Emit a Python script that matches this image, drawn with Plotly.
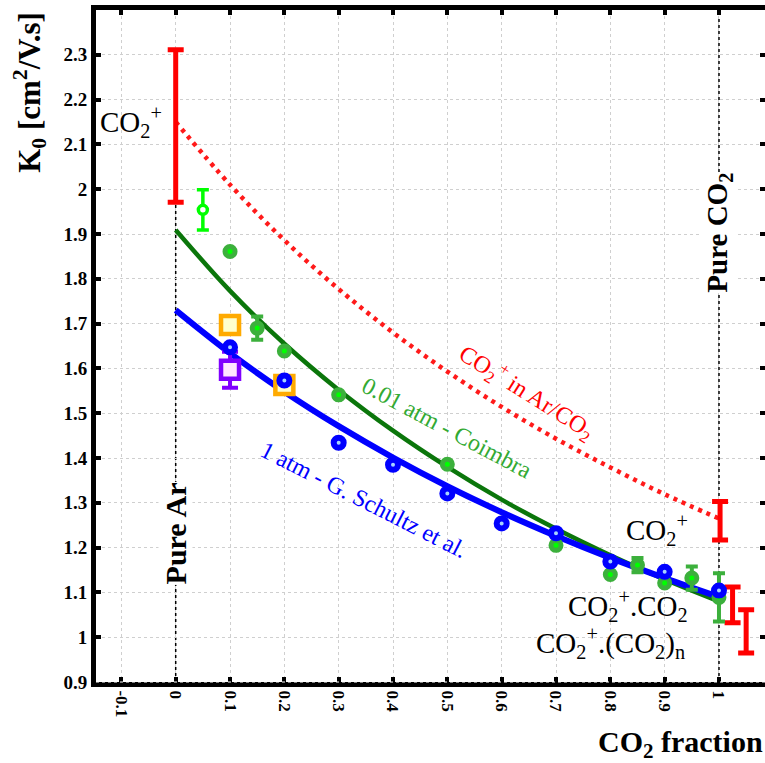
import plotly.graph_objects as go

# ---------------- data ----------------
frac_curve = [0.0, 0.1, 0.2, 0.3, 0.4, 0.5, 0.6, 0.7, 0.8, 0.9, 1.0]
k_red_curve = [2.15, 2.01, 1.886, 1.777, 1.68, 1.593, 1.514, 1.443, 1.379, 1.319, 1.265]
k_green_curve = [1.909, 1.773, 1.655, 1.552, 1.461, 1.38, 1.307, 1.242, 1.183, 1.129, 1.08]
k_blue_curve = [1.73, 1.634, 1.548, 1.471, 1.401, 1.337, 1.279, 1.226, 1.177, 1.132, 1.09]

# red error bars (calculated CO2+ ranges)
red_x = [0.0, 1.002, 1.025, 1.05]
red_y = [2.141, 1.26, 1.072, 1.013]
red_err = [0.17, 0.043, 0.04, 0.048]

# 0.01 atm - Coimbra measurements
green_x = [0.1, 0.15, 0.2, 0.3, 0.5, 0.7, 0.8, 0.85, 0.9, 0.95, 1.0]
green_y = [1.861, 1.69, 1.639, 1.541, 1.386, 1.205, 1.14, 1.161, 1.121, 1.132, 1.089]
green_err = [0, 0.026, 0, 0, 0, 0, 0, 0.016, 0, 0.026, 0.054]

# single bright green point
lime_x = [0.05]
lime_y = [1.954]
lime_err = [0.045]

# 1 atm - G. Schultz et al.
blue_x = [0.1, 0.2, 0.3, 0.4, 0.5, 0.6, 0.7, 0.8, 0.9, 1.0]
blue_y = [1.647, 1.573, 1.434, 1.385, 1.321, 1.254, 1.232, 1.169, 1.146, 1.104]

orange_x = [0.1, 0.2]
orange_y = [1.697, 1.563]

purple_x = [0.1]
purple_y = [1.597]
purple_err = [0.04]

x_ticks = [-0.1, 0, 0.1, 0.2, 0.3, 0.4, 0.5, 0.6, 0.7, 0.8, 0.9, 1.0]
x_tick_text = ["-0.1", "0", "0.1", "0.2", "0.3", "0.4", "0.5", "0.6", "0.7", "0.8", "0.9", "1"]
y_ticks = [0.9, 1.0, 1.1, 1.2, 1.3, 1.4, 1.5, 1.6, 1.7, 1.8, 1.9, 2.0, 2.1, 2.2, 2.3]
y_tick_text = ["0.9", "1", "1.1", "1.2", "1.3", "1.4", "1.5", "1.6", "1.7", "1.8", "1.9", "2", "2.1", "2.2", "2.3"]

SERIF = "Liberation Serif, Times New Roman, serif"
GREEN_MARK = "#3cb03c"
DARK_GREEN = "#0b760b"

fig = go.Figure()

# curves
fig.add_trace(go.Scatter(x=frac_curve, y=k_red_curve, mode="lines",
                         line=dict(color="#ff1a1a", width=4.5, dash="4px,5px", shape="spline"),
                         hoverinfo="skip"))
fig.add_trace(go.Scatter(x=frac_curve, y=k_green_curve, mode="lines",
                         line=dict(color=DARK_GREEN, width=4.5, shape="spline"), hoverinfo="skip"))
fig.add_trace(go.Scatter(x=frac_curve, y=k_blue_curve, mode="lines",
                         line=dict(color="#0000ff", width=6, shape="spline"), hoverinfo="skip"))

# red error bars (no marker)
fig.add_trace(go.Scatter(x=red_x, y=red_y, mode="markers",
                         marker=dict(size=1, color="rgba(0,0,0,0)"),
                         error_y=dict(type="data", array=red_err, color="#ff0000",
                                      thickness=5, width=8)))

# green points
fig.add_trace(go.Scatter(x=green_x, y=green_y, mode="markers",
                         marker=dict(symbol="circle", size=10, color="#00ff00",
                                     line=dict(color=GREEN_MARK, width=5)),
                         error_y=dict(type="data", array=green_err, color=GREEN_MARK,
                                      thickness=4, width=6)))

# lime point
fig.add_trace(go.Scatter(x=lime_x, y=lime_y, mode="markers",
                         marker=dict(symbol="circle", size=9, color="white",
                                     line=dict(color="#00ff00", width=3.5)),
                         error_y=dict(type="data", array=lime_err, color="#00ff00",
                                      thickness=3.5, width=6)))

# orange squares
fig.add_trace(go.Scatter(x=orange_x, y=orange_y, mode="markers",
                         marker=dict(symbol="square", size=18, color="#ffffcc",
                                     line=dict(color="#ffaa00", width=4.5))))

# purple square
fig.add_trace(go.Scatter(x=purple_x, y=purple_y, mode="markers",
                         marker=dict(symbol="square", size=18, color="#ffe6ff",
                                     line=dict(color="#8000ff", width=4.5)),
                         error_y=dict(type="data", array=purple_err, color="#8000ff",
                                      thickness=4, width=8)))

# blue points
fig.add_trace(go.Scatter(x=blue_x, y=blue_y, mode="markers",
                         marker=dict(symbol="circle", size=10, color="#a8d4ff",
                                     line=dict(color="#0000ff", width=6))))

# vertical dotted reference lines
fig.add_shape(type="line", x0=0, x1=0, y0=0.9, y1=2.3, xref="x", yref="y",
              line=dict(color="black", width=1.5, dash="dot"), layer="below")
fig.add_shape(type="line", x0=1, x1=1, y0=0.9, y1=2.385, xref="x", yref="y",
              line=dict(color="black", width=1.5, dash="dot"), layer="below")
# dotted white line over the bottom axis
fig.add_shape(type="line", x0=0, x1=1, y0=0, y1=0, xref="paper", yref="paper",
              line=dict(color="white", width=1, dash="dot"), layer="above")

ann = []
# text labels
ann.append(dict(x=-0.082, y=2.15, text="CO<sub>2</sub><sup>+</sup>", showarrow=False,
                font=dict(family=SERIF, size=29, color="black")))
ann.append(dict(x=0.885, y=1.24, text="CO<sub>2</sub><sup>+</sup>", showarrow=False,
                font=dict(family=SERIF, size=29, color="black")))
ann.append(dict(x=0.832, y=1.07, text="CO<sub>2</sub><sup>+</sup>.CO<sub>2</sub>", showarrow=False,
                font=dict(family=SERIF, size=29, color="black")))
ann.append(dict(x=0.80, y=0.988, text="CO<sub>2</sub><sup>+</sup>.(CO<sub>2</sub>)<sub>n</sub>",
                showarrow=False, font=dict(family=SERIF, size=29, color="black")))
ann.append(dict(x=0.647, y=1.548, text="CO<sub>2</sub><sup>+</sup> in Ar/CO<sub>2</sub>",
                showarrow=False, textangle=32,
                font=dict(family=SERIF, size=24, color="#ff0000")))
ann.append(dict(x=0.50, y=1.468, text="0.01 atm - Coimbra", showarrow=False, textangle=28,
                font=dict(family=SERIF, size=24, color="#33aa33")))
ann.append(dict(x=0.347, y=1.307, text="1 atm - G. Schultz et al.", showarrow=False, textangle=27,
                font=dict(family=SERIF, size=24, color="#0000ff")))
ann.append(dict(x=0.0, y=1.231, text="<b>Pure Ar</b>", showarrow=False, textangle=-90,
                bgcolor="white", borderpad=0,
                font=dict(family=SERIF, size=30, color="black")))
ann.append(dict(x=1.0, y=1.903, text="<b>Pure CO<sub>2</sub></b>", showarrow=False, textangle=-90,
                bgcolor="white", borderpad=0,
                font=dict(family=SERIF, size=29, color="black")))
# axis titles
ann.append(dict(x=-0.099, y=0.878, xref="paper", yref="paper", xanchor="center", yanchor="middle",
                text="<b>K<sub>0</sub> [cm<sup>2</sup>/V.s]</b>", showarrow=False, textangle=-90,
                font=dict(family=SERIF, size=31, color="black")))
ann.append(dict(x=1.0, y=-0.093, xref="paper", yref="paper", xanchor="right", yanchor="middle",
                text="<b>CO<sub>2</sub> fraction</b>", showarrow=False,
                font=dict(family=SERIF, size=30, color="black")))

fig.update_layout(
    width=765, height=763,
    margin=dict(l=96, r=0, t=10, b=81),
    paper_bgcolor="white", plot_bgcolor="white",
    showlegend=False,
    annotations=ann,
    xaxis=dict(range=[-0.1467, 1.0847], tickmode="array", tickvals=x_ticks, ticktext=x_tick_text,
               tickangle=90, ticks="inside", ticklen=5, tickwidth=4, tickcolor="black",
               showline=True, linewidth=5, linecolor="black", mirror="ticks",
               showgrid=True, gridcolor="#cfcfcf", griddash="dot", gridwidth=1,
               zeroline=False, automargin=False,
               tickfont=dict(family=SERIF, size=17, color="black", weight="bold")),
    yaxis=dict(range=[0.9, 2.4], tickmode="array", tickvals=y_ticks, ticktext=y_tick_text,
               ticks="inside", ticklen=5, tickwidth=4, tickcolor="black",
               showline=True, linewidth=5, linecolor="black", mirror="ticks",
               showgrid=True, gridcolor="#cfcfcf", griddash="dot", gridwidth=1,
               zeroline=False, automargin=False,
               tickfont=dict(family=SERIF, size=19, color="black", weight="bold")),
)

fig.write_html("out.html", config={"displayModeBar": False},
               post_script="document.body.style.margin='0';")
